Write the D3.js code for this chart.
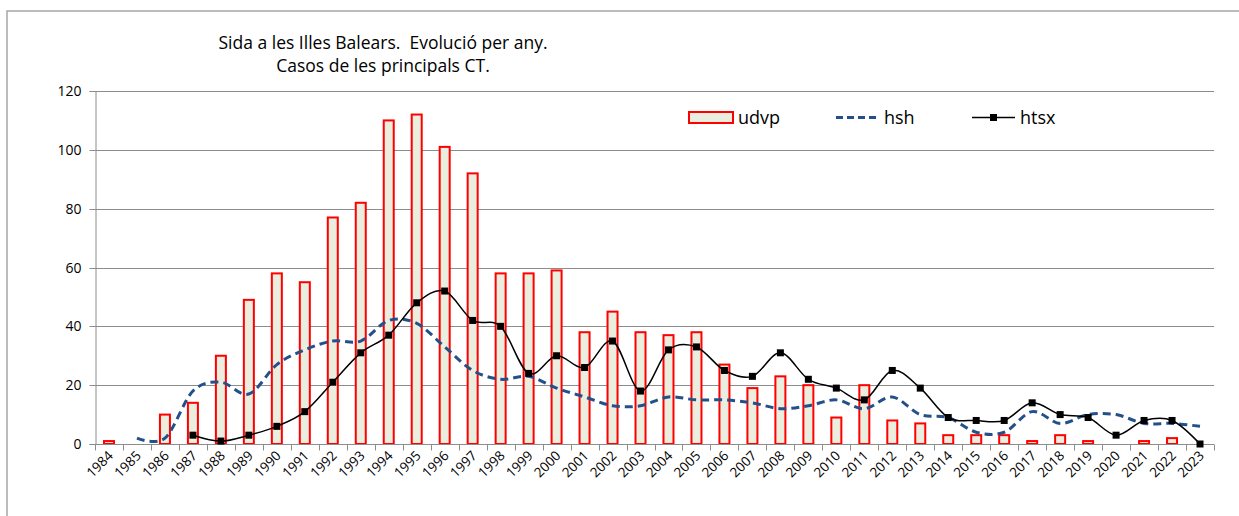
<!DOCTYPE html>
<html><head><meta charset="utf-8">
<script src="https://cdn.jsdelivr.net/npm/d3@7"></script>
<style>
html,body{margin:0;padding:0;background:#fff;}
svg{display:block;font-family:"Open Sans",sans-serif;}
</style></head>
<body><svg id="c" width="1239" height="516"></svg>
<script>
const years = d3.range(1984, 2024).map(String);
const udvp = [1,0,10,14,30,49,58,55,77,82,110,112,101,92,58,58,59,38,45,38,37,38,27,19,23,20,9,20,8,7,3,3,3,1,3,1,0,1,2,0];
const hsh  = [null,2,2,18,21,17,27,32,35,35,42,41,33,25,22,23,19,16,13,13,16,15,15,14,12,13,15,12,16,10,9,4,4,11,7,10,10,7,7,6];
const htsx = [null,null,null,3,1,3,6,11,21,31,37,48,52,42,40,24,30,26,35,18,32,33,25,23,31,22,19,15,25,19,9,8,8,14,10,9,3,8,8,0];
const yTicks = [0,20,40,60,80,100,120];
const titleLines = ["Sida a les Illes Balears.  Evolució per any.", "Casos de les principals CT."];
const seriesNames = ["udvp","hsh","htsx"];

const svg = d3.select("#c");
const L = 95, R = 1214, T = 91, B = 444;
const x = d3.scaleBand().domain(years).range([L, R]).paddingInner(0).paddingOuter(0);
const y = d3.scaleLinear().domain([0,120]).range([B, T]);
const grey = "#8c8c8c";

// chart border
svg.append("rect").attr("x",7).attr("y",11).attr("width",1400).attr("height",700)
  .attr("fill","none").attr("stroke","#a6a6a6").attr("stroke-width",1.5);

// title
const tg = svg.append("text").attr("text-anchor","middle").attr("font-size",17.5).attr("fill","#000")
  .style("white-space","pre");
titleLines.forEach((t,i)=>tg.append("tspan").attr("x",383).attr("y",49+i*23).text(t));

// gridlines
svg.append("g").selectAll("line").data(yTicks.slice(1)).join("line")
  .attr("x1",L).attr("x2",R).attr("y1",d=>Math.round(y(d))+0.5).attr("y2",d=>Math.round(y(d))+0.5)
  .attr("stroke",grey).attr("stroke-width",1);

// y axis
const ya = svg.append("g").attr("transform",`translate(${L+0.5},0)`)
  .call(d3.axisLeft(y).tickValues(yTicks).tickSize(6).tickPadding(8).tickFormat(d3.format("d")));
ya.select(".domain").attr("stroke",grey);
ya.selectAll(".tick line").attr("stroke",grey);
ya.selectAll("text").attr("font-size",14).attr("font-family","Open Sans, sans-serif").attr("fill","#000");
ya.selectAll(".tick").attr("transform",d=>`translate(0,${Math.round(y(d))+0.5})`);

// bars
const bw = 10;
svg.append("g").selectAll("rect").data(udvp.map((v,i)=>({year:years[i],v}))).join("rect")
  .filter(d=>d.v>0)
  .attr("x",d=>x(d.year)+x.bandwidth()/2-bw/2)
  .attr("y",d=>y(d.v))
  .attr("width",bw)
  .attr("height",d=>y(0)-y(d.v))
  .attr("fill","#ebeedf").attr("stroke","#ff0000").attr("stroke-width",2);

// x axis
const xa = svg.append("g").attr("transform",`translate(0,${B+0.5})`);
xa.append("line").attr("x1",L).attr("x2",R).attr("stroke",grey);
const bounds = years.map(yr=>x(yr)).concat([R]);
xa.selectAll("line.t").data(bounds).join("line").attr("class","t")
  .attr("x1",d=>Math.round(d)+0.5).attr("x2",d=>Math.round(d)+0.5).attr("y1",0).attr("y2",6).attr("stroke",grey);
xa.selectAll("text").data(years).join("text")
  .attr("text-anchor","end").attr("font-size",13.5).attr("fill","#000")
  .attr("transform",d=>`translate(${x(d)+x.bandwidth()/2+5},${12}) rotate(-45)`)
  .text(d=>d);

const cx = d => x(d)+x.bandwidth()/2;
const curve = d3.curveCardinal.tension(0);

// hsh line
const hshPts = hsh.map((v,i)=>({year:years[i],v})).filter(d=>d.v!==null);
svg.append("path").datum(hshPts)
  .attr("d", d3.line().x(d=>cx(d.year)).y(d=>y(d.v)).curve(curve))
  .attr("fill","none").attr("stroke","#24508a").attr("stroke-width",3).attr("stroke-dasharray","8,5");

// htsx line
const htPts = htsx.map((v,i)=>({year:years[i],v})).filter(d=>d.v!==null);
svg.append("path").datum(htPts)
  .attr("d", d3.line().x(d=>cx(d.year)).y(d=>y(d.v)).curve(curve))
  .attr("fill","none").attr("stroke","#000").attr("stroke-width",1.5);
svg.append("g").selectAll("rect").data(htPts).join("rect")
  .attr("x",d=>cx(d.year)-3.5).attr("y",d=>y(d.v)-3.5).attr("width",7).attr("height",7).attr("fill","#000");

// legend
const lg = svg.append("g").attr("font-size",18).attr("fill","#000");
lg.append("rect").attr("x",689).attr("y",112).attr("width",44).attr("height",11)
  .attr("fill","#ebeedf").attr("stroke","#ff0000").attr("stroke-width",2);
lg.append("text").attr("x",738).attr("y",124).text(seriesNames[0]);
lg.append("line").attr("x1",836).attr("x2",880).attr("y1",117.5).attr("y2",117.5)
  .attr("stroke","#24508a").attr("stroke-width",3).attr("stroke-dasharray","7,4");
lg.append("text").attr("x",884).attr("y",124).text(seriesNames[1]);
lg.append("line").attr("x1",972).attr("x2",1015).attr("y1",117.5).attr("y2",117.5)
  .attr("stroke","#000").attr("stroke-width",1.5);
lg.append("rect").attr("x",990).attr("y",114).attr("width",7).attr("height",7).attr("fill","#000");
lg.append("text").attr("x",1020).attr("y",124).text(seriesNames[2]);
</script></body></html>
